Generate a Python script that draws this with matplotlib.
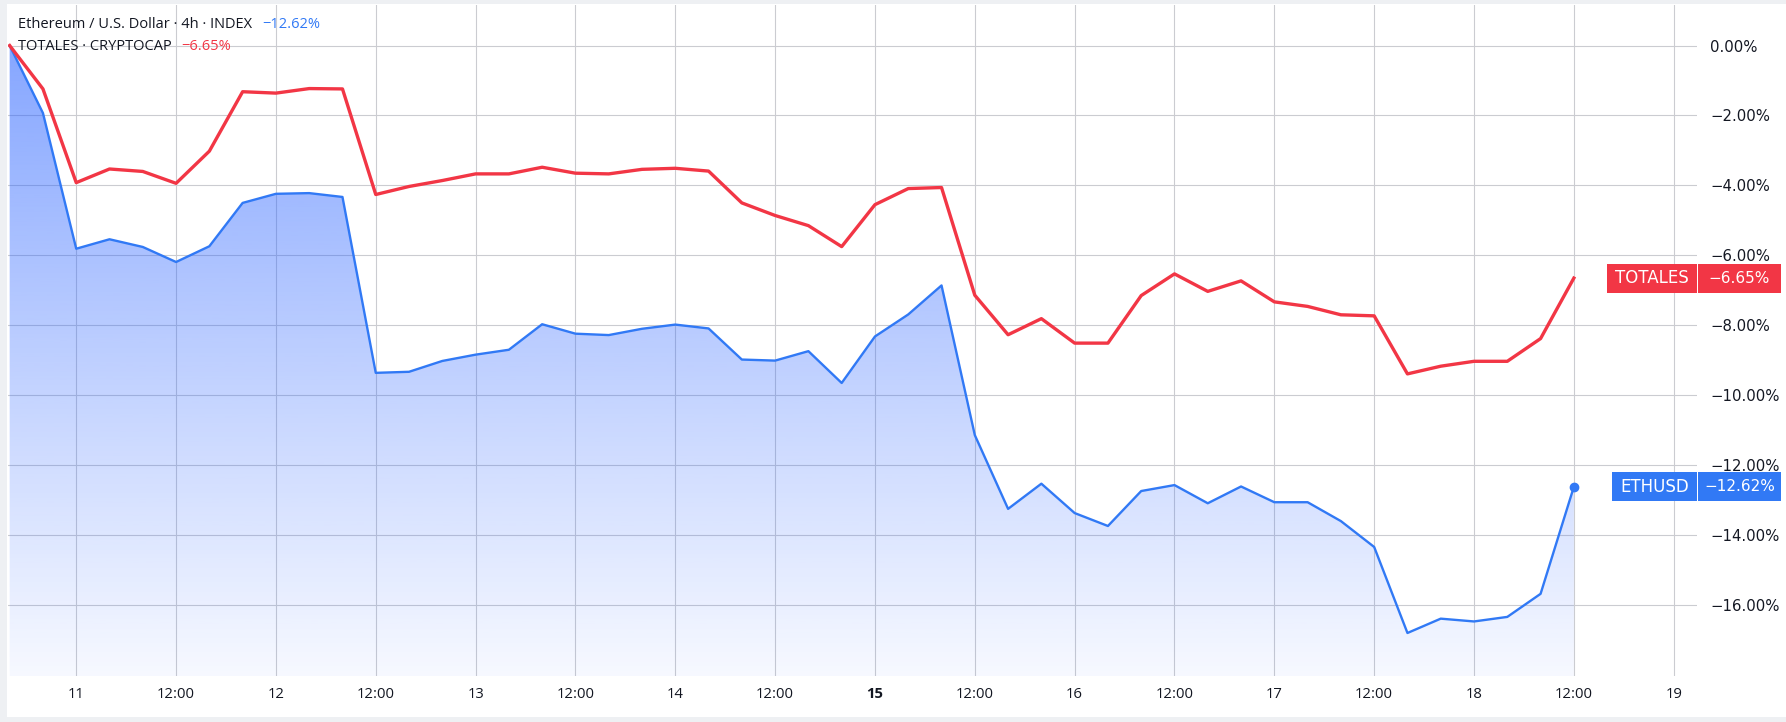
import matplotlib
matplotlib.use('Agg')
import matplotlib.pyplot as plt
import matplotlib.dates as mdates
from matplotlib.patches import Rectangle, Polygon
from matplotlib.transforms import blended_transform_factory
import numpy as np
import pandas as pd

# 4h bars, percent change from first bar
times = pd.date_range('2023-10-10 16:00', periods=48, freq='4h')

totales = [0.00, -1.24, -3.92, -3.53, -3.60, -3.94, -3.02, -1.32, -1.36, -1.23,
           -1.24, -4.26, -4.03, -3.86, -3.67, -3.67, -3.48, -3.65, -3.67, -3.54,
           -3.51, -3.59, -4.50, -4.86, -5.15, -5.75, -4.55, -4.09, -4.06, -7.14,
           -8.27, -7.81, -8.51, -8.51, -7.15, -6.53, -7.03, -6.73, -7.33, -7.46,
           -7.70, -7.73, -9.39, -9.17, -9.03, -9.03, -8.38, -6.65]

ethusd = [0.00, -1.93, -5.81, -5.54, -5.76, -6.19, -5.74, -4.50, -4.24, -4.22,
          -4.33, -9.36, -9.33, -9.02, -8.84, -8.70, -7.97, -8.24, -8.28, -8.10,
          -7.98, -8.09, -8.98, -9.01, -8.74, -9.65, -8.32, -7.69, -6.86, -11.14,
          -13.25, -12.53, -13.37, -13.74, -12.74, -12.57, -13.09, -12.61, -13.06, -13.06,
          -13.60, -14.34, -16.80, -16.39, -16.47, -16.34, -15.68, -12.62]

yticks = [0, -2, -4, -6, -8, -10, -12, -14, -16]

RED = '#f23645'
BLUE = '#3179f5'
TXT = '#131722'
GRID = '#cbccd1'

W, H = 1786, 722
fig = plt.figure(figsize=(W / 100, H / 100), dpi=100)
fig.patch.set_facecolor('#eef0f3')
fig.add_artist(Rectangle((7 / W, 5 / H), 1, 1 - 9 / H, transform=fig.transFigure,
                         facecolor='white', edgecolor='none', zorder=-10))

ax = fig.add_axes([8 / W, 1 - 676 / H, (1697 - 8) / W, (676 - 5) / H])
ax.set_facecolor('none')

xn = mdates.date2num(times)
x0 = xn[0] - 0.2 / 24
x1 = xn[0] + 202.8 / 24
ymin, ymax = -18.03, 1.16

# gradient area under ETHUSD
grad = np.zeros((256, 1, 4))
grad[:, 0, 0] = 41 / 255
grad[:, 0, 1] = 98 / 255
grad[:, 0, 2] = 1.0
grad[:, 0, 3] = np.linspace(0.04, 0.6, 256)
im = ax.imshow(grad, extent=[x0, x1, ymin, ymax], aspect='auto', origin='lower', zorder=1)
verts = list(zip(xn, ethusd)) + [(xn[-1], ymin), (xn[0], ymin)]
poly = Polygon(verts, closed=True, transform=ax.transData, facecolor='none', edgecolor='none')
ax.add_patch(poly)
im.set_clip_path(poly)

ax.plot(xn, ethusd, color=BLUE, lw=1.7, zorder=3, solid_joinstyle='round')
ax.plot(xn[-1], ethusd[-1], 'o', color=BLUE, ms=6, zorder=4)
ax.plot(xn, totales, color=RED, lw=2.4, zorder=3, solid_joinstyle='round')

ax.set_xlim(x0, x1)
ax.set_ylim(ymin, ymax)

# x ticks every 12h
xt = pd.date_range('2023-10-11 00:00', '2023-10-19 00:00', freq='12h')
ax.set_xticks(mdates.date2num(xt))
ax.set_xticklabels([str(t.day) if t.hour == 0 else '12:00' for t in xt])
for lab, t in zip(ax.get_xticklabels(), xt):
    lab.set_fontfamily('Open Sans')
    lab.set_fontsize(10.7)
    lab.set_color(TXT)
    if t.hour == 0 and t.day == 15:
        lab.set_fontweight('bold')

ax.yaxis.tick_right()
ax.set_yticks(yticks)
ax.set_yticklabels([('%.2f%%' % v).replace('-', '\u2212') for v in yticks])
ax.tick_params(axis='y', length=0, pad=9.4, labelsize=10.7, labelcolor=TXT)
ax.tick_params(axis='x', length=0, pad=8, labelcolor=TXT)
ax.grid(True, color=GRID, lw=0.8, zorder=0)
ax.set_axisbelow(True)
for s in ax.spines.values():
    s.set_visible(False)

# price tags on the right
tr = blended_transform_factory(ax.transAxes, ax.transData)
axw = 1689.0
hh = 14.5 / (671 / (ymax - ymin))


def tag(y, name, value, color, name_px):
    nw = name_px / axw
    ax.add_patch(Rectangle((1 - nw, y - hh), nw - 0.5 / axw, 2 * hh, transform=tr,
                           facecolor=color, edgecolor='none', clip_on=False, zorder=6))
    ax.add_patch(Rectangle((1 + 1 / axw, y - hh), 83 / axw, 2 * hh, transform=tr,
                           facecolor=color, edgecolor='none', clip_on=False, zorder=6))
    ax.text(1 - nw / 2, y, name, transform=tr, color='white', fontsize=12,
            ha='center', va='center', zorder=7, clip_on=False)
    ax.text(1 + 42.5 / axw, y, value, transform=tr, color='white', fontsize=11,
            ha='center', va='center', zorder=7, clip_on=False)


tag(totales[-1], 'TOTALES', '\u22126.65%', RED, 90)
tag(ethusd[-1], 'ETHUSD', '\u221212.62%', BLUE, 85)

# legend lines
t1 = fig.text(18 / W, 1 - 25 / H, 'Ethereum / U.S. Dollar \u00b7 4h \u00b7 INDEX',
              fontfamily='Open Sans', fontsize=10.5, color=TXT, va='center', ha='left')
fig.canvas.draw()
ax.annotate('\u221212.62%', xy=(1, 0.5), xycoords=t1, xytext=(7, 0),
            textcoords='offset points', fontfamily='Open Sans', fontsize=10.5,
            color=BLUE, va='center', ha='left')
t2 = fig.text(18 / W, 1 - 46 / H, 'TOTALES \u00b7 CRYPTOCAP',
              fontfamily='Open Sans', fontsize=10.5, color=TXT, va='center', ha='left')
ax.annotate('\u22126.65%', xy=(1, 0.5), xycoords=t2, xytext=(7, 0),
            textcoords='offset points', fontfamily='Open Sans', fontsize=10.5,
            color=RED, va='center', ha='left')

fig.savefig('out.png', dpi=100, facecolor=fig.get_facecolor())
